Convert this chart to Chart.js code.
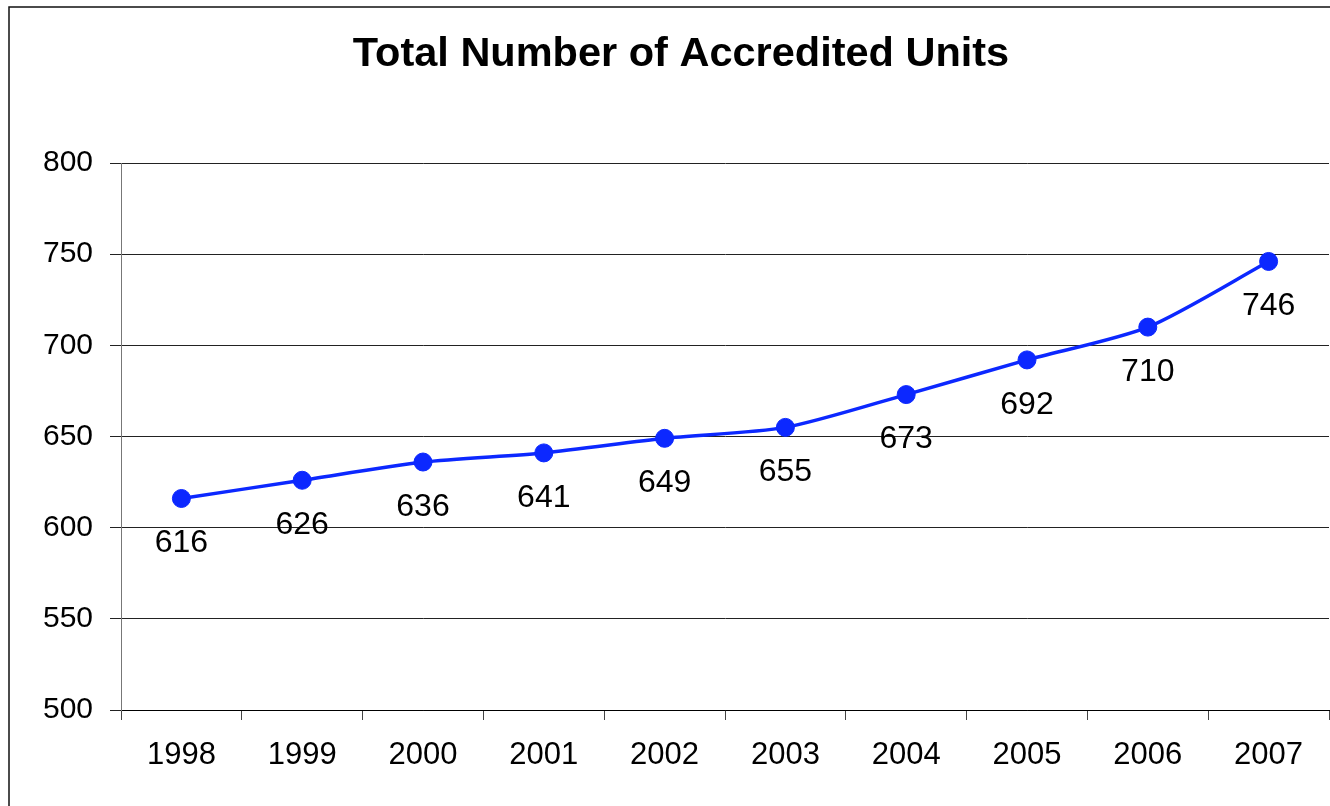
<!DOCTYPE html>
<html>
<head>
<meta charset="utf-8">
<script src="https://cdn.jsdelivr.net/npm/chart.js@4/dist/chart.umd.min.js"></script>
<style>
  html, body { margin: 0; padding: 0; background: #fff; overflow: hidden; }
  #wrap { width: 1330px; height: 806px; position: relative; overflow: hidden; }
  #c { position: absolute; left: 0; top: 0; }
</style>
</head>
<body>
<div id="wrap"><canvas id="c" width="1339" height="806"></canvas></div>
<script>
const chartTitle = 'Total Number of Accredited Units';
const years = ['1998', '1999', '2000', '2001', '2002', '2003', '2004', '2005', '2006', '2007'];
const units = [616, 626, 636, 641, 649, 655, 673, 692, 710, 746];
const yTicks = [500, 550, 600, 650, 700, 750, 800];

const FONT = "'Liberation Sans', Arial, sans-serif";
const BLUE = 'rgb(12,40,255)';

const framePlugin = {
  id: 'frame',
  beforeDraw(chart) {
    const ctx = chart.ctx;
    ctx.save();
    ctx.fillStyle = '#fff';
    ctx.fillRect(0, 0, chart.width, chart.height);
    ctx.strokeStyle = '#111';
    ctx.lineWidth = 1.5;
    ctx.beginPath();
    ctx.moveTo(9, chart.height);
    ctx.lineTo(9, 7);
    ctx.lineTo(chart.width, 7);
    ctx.stroke();
    ctx.fillStyle = '#000';
    ctx.font = "bold 41.5px " + FONT;
    ctx.textAlign = 'center';
    ctx.textBaseline = 'middle';
    ctx.fillText(chartTitle, 681, 55);
    ctx.restore();
  }
};

const labelPlugin = {
  id: 'pointLabels',
  afterDatasetsDraw(chart) {
    const ctx = chart.ctx;
    const meta = chart.getDatasetMeta(0);
    ctx.save();
    ctx.fillStyle = '#000';
    ctx.font = "32px " + FONT;
    ctx.textAlign = 'center';
    ctx.textBaseline = 'middle';
    meta.data.forEach((pt, i) => {
      ctx.fillText(String(units[i]), pt.x, pt.y + 45);
    });
    ctx.restore();
  }
};

new Chart(document.getElementById('c'), {
  type: 'line',
  data: {
    labels: years,
    datasets: [{
      data: units,
      borderColor: BLUE,
      backgroundColor: BLUE,
      borderWidth: 3.5,
      pointRadius: 9,
      pointBorderWidth: 1,
      pointBackgroundColor: BLUE,
      pointBorderColor: BLUE,
      tension: 0.25,
      fill: false
    }]
  },
  options: {
    responsive: false,
    animation: false,
    events: [],
    layout: { padding: { top: 163, right: 0, bottom: 0, left: 0 } },
    plugins: {
      legend: { display: false },
      title: { display: false },
      tooltip: { enabled: false }
    },
    scales: {
      x: {
        offset: true,
        grid: {
          offset: true,
          drawOnChartArea: false,
          drawTicks: true,
          tickLength: 10,
          color: '#444',
          lineWidth: 1
        },
        border: { display: true, color: '#000', width: 1 },
        ticks: {
          color: '#000',
          font: { family: FONT, size: 31 },
          padding: 17,
          maxRotation: 0,
          autoSkip: false
        },
        afterFit(scale) {
          scale.height = 96;
        }
      },
      y: {
        min: 500,
        max: 800,
        afterBuildTicks(scale) { scale.ticks = yTicks.map(v => ({ value: v })); },
        grid: {
          color: '#222',
          lineWidth: 1,
          drawTicks: true,
          tickLength: 11
        },
        border: { display: true, color: '#777', width: 1 },
        ticks: {
          color: '#000',
          font: { family: FONT, size: 30 },
          padding: 17
        },
        afterFit(scale) {
          scale.width = 121;
        }
      }
    }
  },
  plugins: [framePlugin, labelPlugin]
});
</script>
</body>
</html>
